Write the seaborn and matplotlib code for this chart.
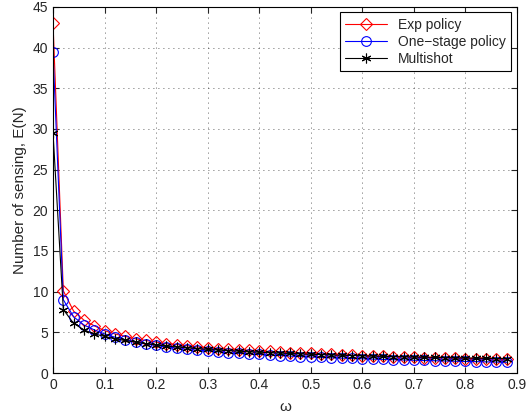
import numpy as np
import pandas as pd
import matplotlib
matplotlib.use("Agg")
import matplotlib.pyplot as plt
import seaborn as sns

omega = [0.00, 0.02, 0.04, 0.06, 0.08, 0.10, 0.12, 0.14, 0.16, 0.18,
         0.20, 0.22, 0.24, 0.26, 0.28, 0.30, 0.32, 0.34, 0.36, 0.38,
         0.40, 0.42, 0.44, 0.46, 0.48, 0.50, 0.52, 0.54, 0.56, 0.58,
         0.60, 0.62, 0.64, 0.66, 0.68, 0.70, 0.72, 0.74, 0.76, 0.78,
         0.80, 0.82, 0.84, 0.86, 0.88]

exp_policy = [43.0, 10.1, 7.6, 6.5, 5.8, 5.2, 4.8, 4.5, 4.2, 4.0,
              3.8, 3.6, 3.5, 3.35, 3.2, 3.1, 3.0, 2.95, 2.85, 2.8,
              2.7, 2.65, 2.6, 2.5, 2.45, 2.4, 2.35, 2.3, 2.25, 2.2,
              2.15, 2.1, 2.05, 2.0, 1.98, 1.95, 1.9, 1.88, 1.85, 1.8,
              1.78, 1.75, 1.72, 1.7, 1.68]

one_stage = [39.4, 9.0, 6.9, 5.9, 5.3, 4.8, 4.4, 4.1, 3.8, 3.6,
             3.4, 3.2, 3.05, 2.9, 2.8, 2.7, 2.6, 2.5, 2.42, 2.35,
             2.28, 2.2, 2.15, 2.08, 2.02, 1.97, 1.92, 1.87, 1.83, 1.79,
             1.75, 1.71, 1.67, 1.64, 1.6, 1.57, 1.54, 1.51, 1.48, 1.45,
             1.42, 1.4, 1.37, 1.35, 1.32]

multishot = [29.5, 7.8, 6.1, 5.3, 4.8, 4.5, 4.2, 4.0, 3.8, 3.6,
             3.45, 3.3, 3.2, 3.1, 3.0, 2.9, 2.82, 2.75, 2.68, 2.6,
             2.55, 2.5, 2.45, 2.4, 2.35, 2.3, 2.26, 2.22, 2.18, 2.15,
             2.12, 2.08, 2.05, 2.02, 2.0, 1.97, 1.94, 1.92, 1.9, 1.87,
             1.85, 1.82, 1.8, 1.78, 1.76]

labels = ["Exp policy", "One\u2212stage policy", "Multishot"]

df = pd.DataFrame({"omega": omega, labels[0]: exp_policy,
                   labels[1]: one_stage, labels[2]: multishot})

sns.set_style("ticks")
plt.rcParams['font.family'] = ['Liberation Sans', 'DejaVu Sans']

fig = plt.figure(figsize=(5.27, 4.17), dpi=100)
ax = fig.add_axes([0.1006, 0.1055, 0.8805, 0.878])

# matlab-ish markers: open diamond, open circle, asterisk
styles = [("red", "D", 6), ("blue", "o", 7), ("black", (6, 2, 0), 7)]
for lab, (c, m, ms) in zip(labels, styles):
    sns.lineplot(data=df, x="omega", y=lab, ax=ax, color=c, marker=m,
                 markersize=ms, markerfacecolor="none", markeredgecolor=c,
                 markeredgewidth=0.8, linewidth=0.8, label=lab)

ax.set_xlim(0, 0.9)
ax.set_ylim(0, 45)
ax.set_xticks(np.arange(0, 0.91, 0.1))
ax.set_xticklabels(["0", "0.1", "0.2", "0.3", "0.4", "0.5", "0.6", "0.7", "0.8", "0.9"])
ax.set_yticks(np.arange(0, 46, 5))
ax.grid(True, linestyle=(0, (1, 5)), color="black", linewidth=0.6, alpha=0.8)
ax.tick_params(direction="in", top=True, right=True, labelsize=10, length=4)
for s in ax.spines.values():
    s.set_linewidth(0.8)
    s.set_color("black")

ax.set_xlabel("\u03c9", fontsize=11, labelpad=6)
ax.set_ylabel("Number of sensing, E(N)", fontsize=11)

leg = ax.legend(loc="upper right", fontsize=10, frameon=True, fancybox=False,
                edgecolor="black", borderaxespad=0.4, handlelength=3,
                labelspacing=0.2, framealpha=1)
leg.get_frame().set_linewidth(0.8)

fig.savefig("out.png", dpi=100)
